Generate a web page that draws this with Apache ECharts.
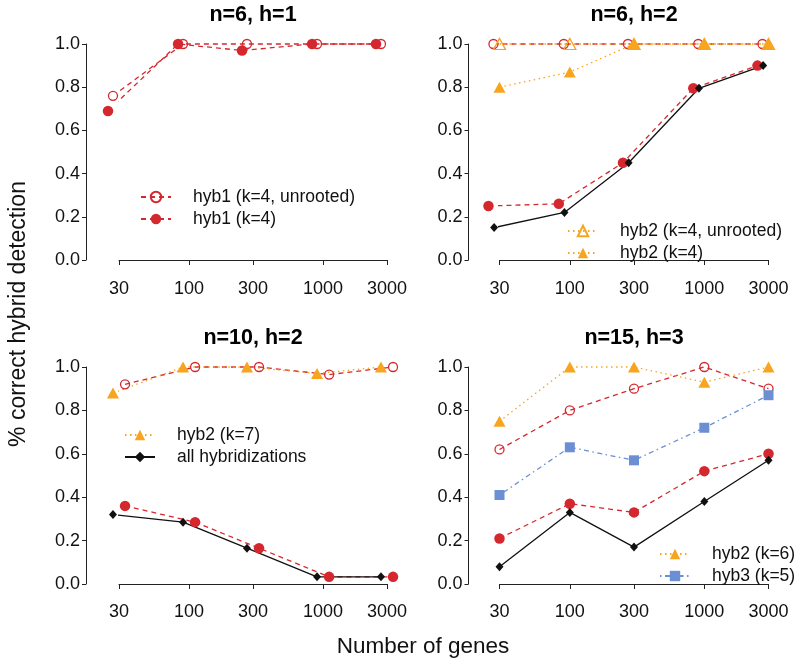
<!DOCTYPE html>
<html>
<head>
<meta charset="utf-8">
<script src="https://cdn.jsdelivr.net/npm/echarts@6/dist/echarts.min.js"></script>
<style>
html, body { margin: 0; padding: 0; background: #fff; }
#main { width: 794px; height: 667px; }
</style>
</head>
<body>
<div id="main"></div>
<script>
// number of genes (x categories, log scale)
var genes = [30, 100, 300, 1000, 3000];
var panelTitles = ['n=6, h=1', 'n=6, h=2', 'n=10, h=2', 'n=15, h=3'];

// n=6, h=1
var p1Hyb1Unrooted = [0.76, 1, 1, 1, 1];
var p1Hyb1 = [0.69, 1, 0.97, 1, 1];
// n=6, h=2
var p2Hyb1Unrooted = [1, 1, 1, 1, 1];
var p2Hyb1 = [0.25, 0.26, 0.45, 0.795, 0.90];
var p2Hyb2Unrooted = [1, 1, 1, 1, 1];
var p2Hyb2 = [0.80, 0.87, 1, 1, 1];
var p2All = [0.15, 0.22, 0.45, 0.795, 0.90];
// n=10, h=2
var p3Hyb1Unrooted = [0.92, 1, 1, 0.965, 1];
var p3Hyb1 = [0.36, 0.285, 0.165, 0.033, 0.033];
var p3Hyb2 = [0.88, 1, 1, 0.97, 1];
var p3All = [0.32, 0.285, 0.165, 0.033, 0.033];
// n=15, h=3
var p4Hyb1Unrooted = [0.62, 0.80, 0.90, 1, 0.90];
var p4Hyb1 = [0.21, 0.37, 0.33, 0.52, 0.60];
var p4Hyb2 = [0.75, 1, 1, 0.93, 1];
var p4Hyb3 = [0.41, 0.63, 0.57, 0.72, 0.87];
var p4All = [0.08, 0.33, 0.17, 0.38, 0.57];

var FONT = "'Liberation Sans', Arial, Helvetica, sans-serif";
var RED = '#d4282e', ORANGE = '#f7a51e', BLUE = '#6b8fd2', BLACK = '#111';
var DASH = [5, 4], DOT = [1.5, 3.5], DOTDASH = [1.5, 3.5, 5, 3.5];

var styles = {
	hyb1U: { symbol: 'circle', size: 9, fill: 'rgba(0,0,0,0)', border: RED, line: RED, dash: DASH },
	hyb1: { symbol: 'circle', size: 10.5, fill: RED, border: RED, line: RED, dash: DASH },
	hyb2U: { symbol: 'triangle', size: [12, 11], fill: 'rgba(0,0,0,0)', border: ORANGE, line: ORANGE, dash: DOT },
	hyb2: { symbol: 'triangle', size: [12, 11], fill: ORANGE, border: ORANGE, line: ORANGE, dash: DOT },
	hyb3: { symbol: 'rect', size: 10, fill: BLUE, border: BLUE, line: BLUE, dash: DOTDASH },
	all: { symbol: 'diamond', size: [8, 9], fill: BLACK, border: BLACK, line: BLACK, dash: 'solid' }
};

// panel boxes: plot region is exactly 30..3000 by 0..1
var boxes = [
	{ left: 119, top: 44, width: 268, height: 216 },
	{ left: 499.5, top: 44, width: 269, height: 216 },
	{ left: 119, top: 367, width: 268, height: 217 },
	{ left: 499.5, top: 367, width: 269, height: 217 }
];
var yOffsets = [33, 31, 33, 31];
var xOffsets = [9, 9, 8, 8];

// x jitter in decades (points are shifted a little in the original)
function makeSeries(panel, name, values, key, jitter) {
	var s = styles[key];
	return {
		name: name,
		type: 'line',
		xAxisIndex: panel,
		yAxisIndex: panel,
		clip: false,
		symbol: s.symbol,
		symbolSize: s.size,
		lineStyle: { color: s.line, width: 1.3, type: s.dash },
		itemStyle: { color: s.fill, borderColor: s.border, borderWidth: s.fill === s.border ? 0 : 1.3 },
		emphasis: { disabled: true },
		data: values.map(function (v, i) {
			return [Math.log10(genes[i]) + jitter, v];
		})
	};
}

var series = [
	makeSeries(0, 'hyb1 (k=4, unrooted)', p1Hyb1Unrooted, 'hyb1U', -0.045),
	makeSeries(0, 'hyb1 (k=4)', p1Hyb1, 'hyb1', -0.082),

	makeSeries(1, 'hyb1 (k=4, unrooted)', p2Hyb1Unrooted, 'hyb1U', -0.045),
	makeSeries(1, 'hyb1 (k=4)', p2Hyb1, 'hyb1', -0.082),
	makeSeries(1, 'hyb2 (k=4, unrooted)', p2Hyb2Unrooted, 'hyb2U', 0),
	makeSeries(1, 'hyb2 (k=4)', p2Hyb2, 'hyb2', 0),
	makeSeries(1, 'all hybridizations', p2All, 'all', -0.04),

	makeSeries(2, 'hyb1 (unrooted)', p3Hyb1Unrooted, 'hyb1U', 0.045),
	makeSeries(2, 'hyb1', p3Hyb1, 'hyb1', 0.045),
	makeSeries(2, 'hyb2 (k=7)', p3Hyb2, 'hyb2', -0.045),
	makeSeries(2, 'all hybridizations', p3All, 'all', -0.045),

	makeSeries(3, 'hyb1 (unrooted) ', p4Hyb1Unrooted, 'hyb1U', 0),
	makeSeries(3, 'hyb1 ', p4Hyb1, 'hyb1', 0),
	makeSeries(3, 'hyb2 (k=6)', p4Hyb2, 'hyb2', 0),
	makeSeries(3, 'hyb3 (k=5)', p4Hyb3, 'hyb3', 0),
	makeSeries(3, 'all hybridizations', p4All, 'all', 0)
];

var logTicks = genes.map(function (g) { return Math.log10(g); });

var grid = [], xAxis = [], yAxis = [];
boxes.forEach(function (b, i) {
	grid.push({ left: b.left, top: b.top, width: b.width, height: b.height, containLabel: false });
	xAxis.push({
		type: 'value',
		gridIndex: i,
		min: logTicks[0],
		max: logTicks[logTicks.length - 1],
		offset: xOffsets[i],
		axisLine: { show: true, lineStyle: { color: '#222', width: 1 } },
		axisTick: { show: true, length: 5, customValues: logTicks, lineStyle: { color: '#222' } },
		axisLabel: {
			customValues: logTicks,
			margin: 11,
			color: '#111',
			fontSize: 18,
			fontFamily: FONT,
			formatter: function (v) { return Math.round(Math.pow(10, v)); }
		},
		splitLine: { show: false }
	});
	yAxis.push({
		type: 'value',
		gridIndex: i,
		min: 0,
		max: 1,
		interval: 0.2,
		offset: yOffsets[i],
		axisLine: { show: true, lineStyle: { color: '#222', width: 1 } },
		axisTick: { show: true, length: 4, lineStyle: { color: '#222' } },
		axisLabel: {
			margin: 6,
			color: '#111',
			fontSize: 18,
			fontFamily: FONT,
			formatter: function (v) { return v.toFixed(1); }
		},
		splitLine: { show: false }
	});
});

function makeLegend(names, left, top) {
	return {
		data: names,
		orient: 'vertical',
		left: left,
		top: top,
		padding: 0,
		itemGap: 2,
		itemWidth: 30,
		itemHeight: 13,
		selectedMode: false,
		textStyle: { fontSize: 17.5, fontFamily: FONT, color: '#111', lineHeight: 20, padding: [0, 0, 0, 17] }
	};
}

var legend = [
	makeLegend(['hyb1 (k=4, unrooted)', 'hyb1 (k=4)'], 140, 187),
	makeLegend(['hyb2 (k=4, unrooted)', 'hyb2 (k=4)'], 567, 221),
	makeLegend(['hyb2 (k=7)', 'all hybridizations'], 124, 425),
	makeLegend(['hyb2 (k=6)', 'hyb3 (k=5)'], 659, 544)
];

var titleCenters = [[253, 15], [634, 15], [253, 338], [634, 338]];
var graphic = titleCenters.map(function (c, i) {
	return {
		type: 'text', x: c[0], y: c[1],
		style: { text: panelTitles[i], font: 'bold 21.5px ' + FONT, fill: '#000', align: 'center', verticalAlign: 'middle' }
	};
});
graphic.push({
	type: 'text', x: 423, y: 647,
	style: { text: 'Number of genes', font: '22.5px ' + FONT, fill: '#111', align: 'center', verticalAlign: 'middle' }
});
graphic.push({
	type: 'text', x: 19, y: 314, rotation: Math.PI / 2,
	style: { text: '% correct hybrid detection', font: '23px ' + FONT, fill: '#111', align: 'center', verticalAlign: 'middle' }
});

var myChart = echarts.init(document.getElementById('main'));
var option = {
	animation: false,
	backgroundColor: '#fff',
	grid: grid,
	xAxis: xAxis,
	yAxis: yAxis,
	legend: legend,
	graphic: graphic,
	series: series
};
myChart.setOption(option);
</script>
</body>
</html>
